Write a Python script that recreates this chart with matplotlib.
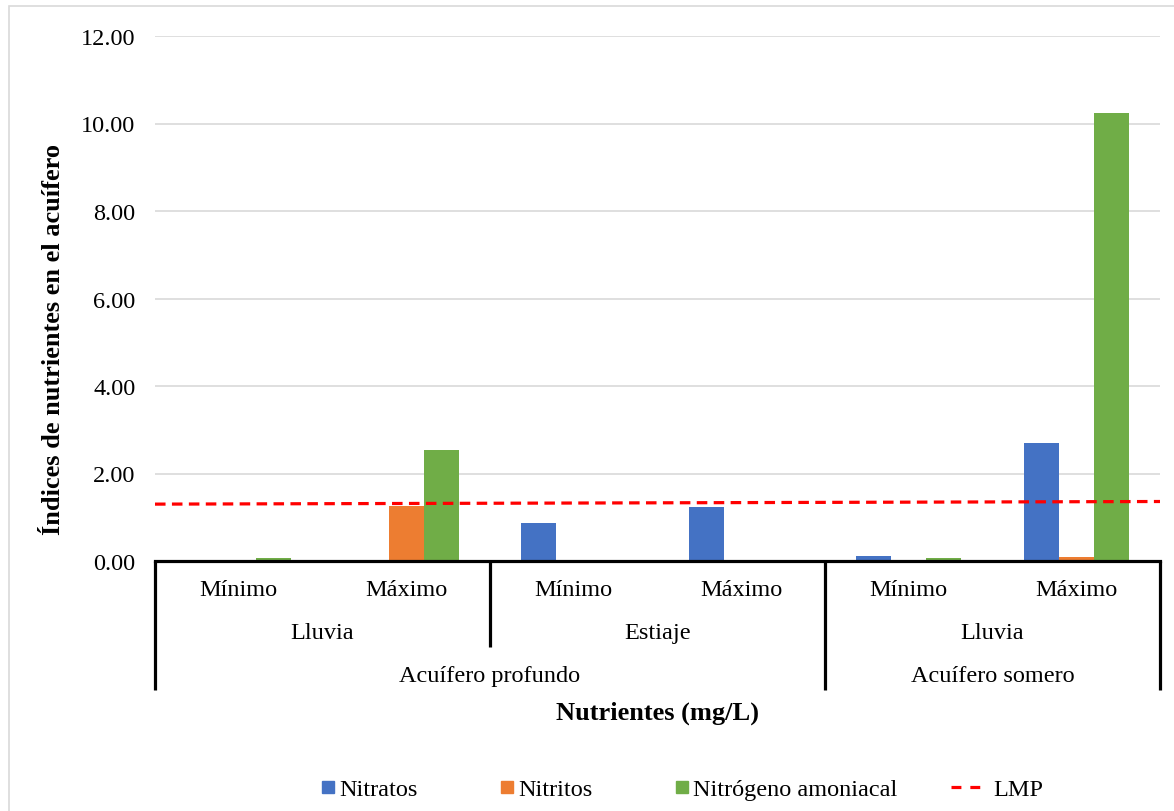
import numpy as np
import matplotlib
matplotlib.use("Agg")
import matplotlib.pyplot as plt
from matplotlib.lines import Line2D
from matplotlib.patches import Rectangle
import matplotlib.transforms as mtransforms

plt.rcParams['font.family'] = ['Liberation Serif', 'DejaVu Serif']

# -------- DATOS --------
nivel1 = ["Mínimo", "Máximo", "Mínimo", "Máximo", "Mínimo", "Máximo"]
nivel2 = ["Lluvia", "Estiaje", "Lluvia"]
nivel3 = ["Acuífero profundo", "Acuífero somero"]

nitratos = [0.00, 0.00, 0.88, 1.23, 0.11, 2.70]
nitritos = [0.00, 1.26, 0.00, 0.00, 0.00, 0.09]
amoniacal = [0.07, 2.54, 0.00, 0.00, 0.06, 10.24]
lmp = [1.30, 1.36]   # valor en los extremos del eje

series = ["Nitratos", "Nitritos", "Nitrógeno amoniacal"]
colores = ["#4472C4", "#ED7D31", "#70AD47"]

FS = 17.5

# -------- FIGURA --------
fig = plt.figure(figsize=(11.74, 8.12), dpi=100)
ax = fig.add_axes([155/1174, 1 - 562/812, (1160 - 155)/1174, (562 - 37)/812])

x = np.arange(len(nivel1))
w = 0.209
for i, (vals, c) in enumerate(zip([nitratos, nitritos, amoniacal], colores)):
    ax.bar(x + (i - 1)*w, vals, width=w, color=c, zorder=2)

ax.plot([-0.5, 5.5], lmp, color='red', linewidth=2.3, dashes=(3.3, 2.0), zorder=3)

ax.set_xlim(-0.5, 5.5)
ax.set_ylim(0, 12)
ax.set_yticks(np.arange(0, 13, 2))
ax.set_yticklabels([f"{v:.2f}" for v in np.arange(0, 13, 2)])
ax.tick_params(axis='y', length=0, pad=14, labelsize=FS)
ax.set_xticks([])
ax.grid(axis='y', color='#d9d9d9', linewidth=1.2, zorder=0)
ax.set_axisbelow(True)
for s in ['left', 'right', 'top']:
    ax.spines[s].set_visible(False)
ax.spines['bottom'].set_linewidth(2.3)
ax.spines['bottom'].set_color('black')

ax.set_ylabel("Índices de nutrientes en el acuífero", fontsize=19, fontweight='bold')
ax.yaxis.set_label_coords(-0.0896, 0.423)

# -------- EJE DE CATEGORIAS MULTINIVEL --------
tr = mtransforms.blended_transform_factory(ax.transData, ax.transAxes)
y_fondo = (562 - 691)/525
y_medio = (562 - 648)/525
for xb, yb in [(-0.5, y_fondo), (1.5, y_medio), (3.5, y_fondo), (5.5, y_fondo)]:
    ax.plot([xb, xb], [0, yb], color='black', linewidth=2.3, transform=tr,
            clip_on=False, solid_capstyle='butt')

for xi, txt in zip(x, nivel1):
    ax.text(xi, (562 - 591)/525, txt, transform=tr, ha='center', va='center', fontsize=FS)
for xc, txt in zip([0.5, 2.5, 4.5], nivel2):
    ax.text(xc, (562 - 634)/525, txt, transform=tr, ha='center', va='center', fontsize=FS)
for xc, txt in zip([1.5, 4.5], nivel3):
    ax.text(xc, (562 - 677)/525, txt, transform=tr, ha='center', va='center', fontsize=FS)

fig.text(657/1174, 1 - 713/812, "Nutrientes (mg/L)", ha='center', va='center',
         fontsize=19, fontweight='bold')

# -------- LEYENDA --------
cuadros = [Line2D([], [], marker='s', linestyle='none', markersize=8,
                  markerfacecolor=c, markeredgecolor=c) for c in colores]
fig.legend(cuadros, series, loc='center', bbox_to_anchor=(609/1174, 1 - 790/812),
           ncol=3, frameon=False, fontsize=FS, handlelength=0.6, handletextpad=0.15,
           columnspacing=3.4)
linea = [Line2D([], [], color='red', linewidth=2.3, dashes=(3.1, 2.8))]
fig.legend(linea, ["LMP"], loc='center', bbox_to_anchor=(997/1174, 1 - 790/812),
           frameon=False, fontsize=FS, handlelength=1.2, handletextpad=0.55)

# marco exterior
fig.patches.append(Rectangle((9/1174, -0.1), 1.2, 1.1 - 7/812, transform=fig.transFigure,
                             fill=False, edgecolor='#d9d9d9', linewidth=1.2))

plt.savefig("out.png")
